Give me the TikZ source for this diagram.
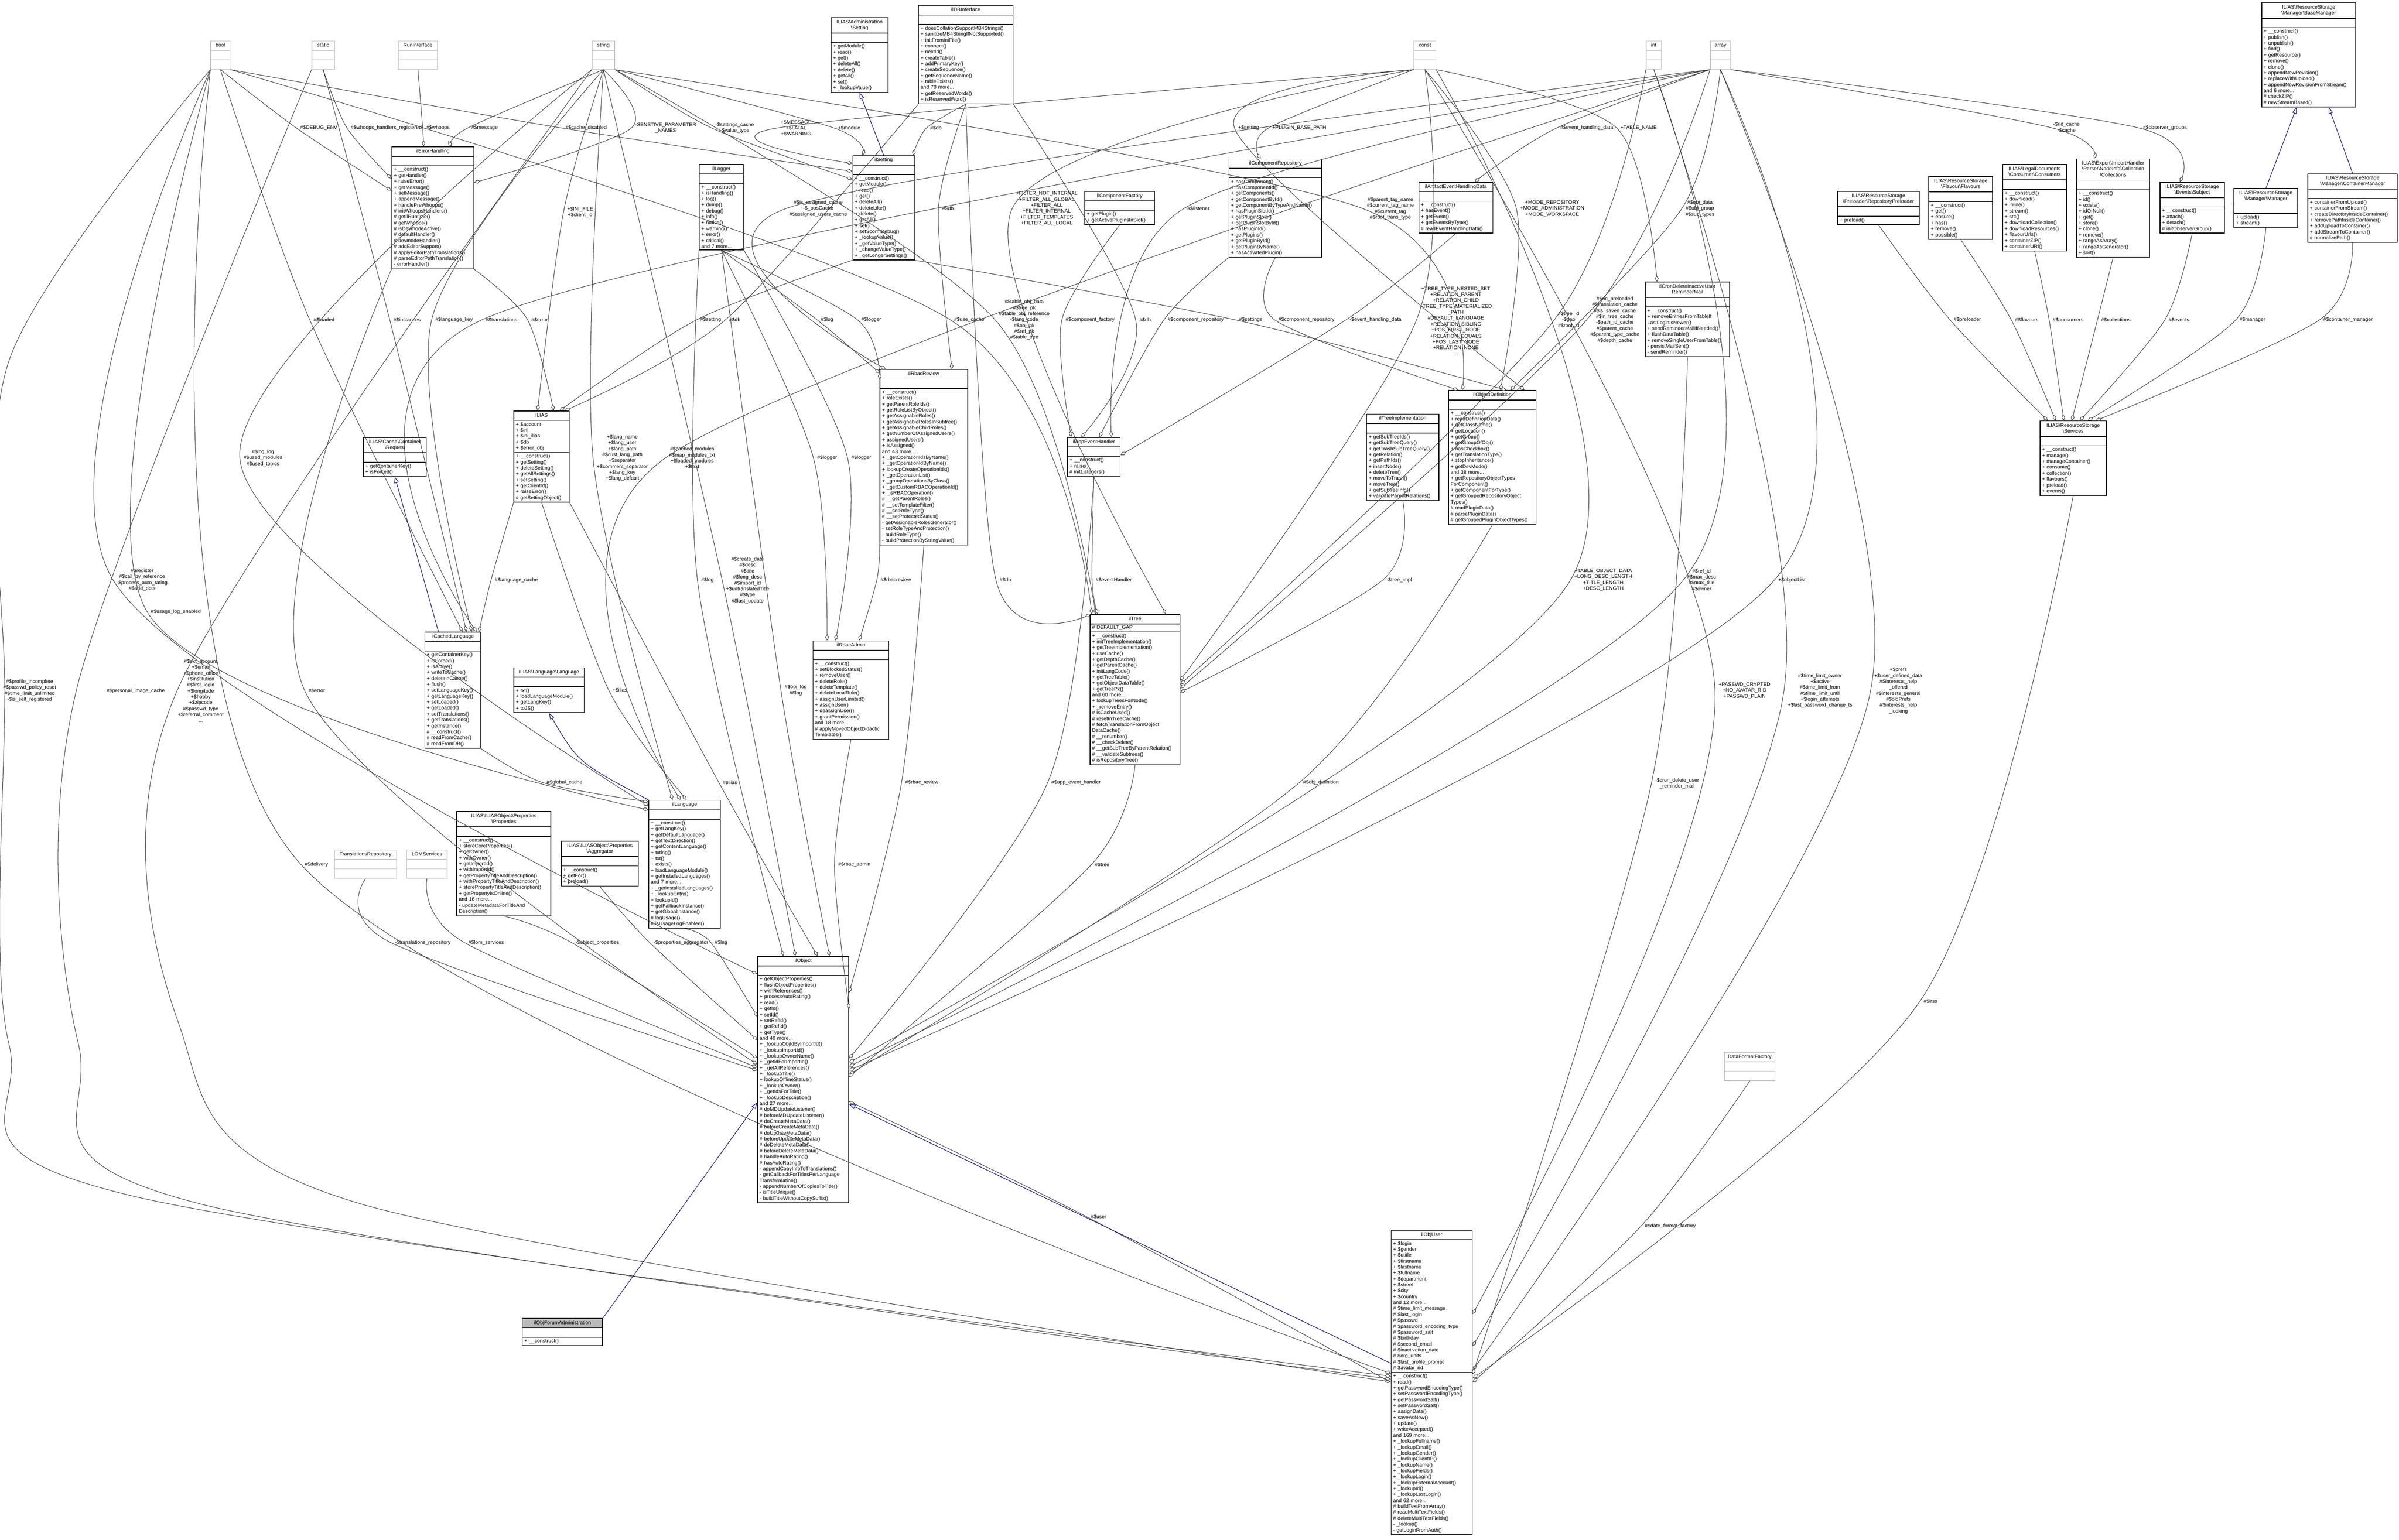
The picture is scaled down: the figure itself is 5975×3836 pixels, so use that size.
\documentclass[tikz,border=0pt]{standalone}
\usepackage{fontspec}
\setmainfont{Liberation Sans}
\usetikzlibrary{shapes.multipart,arrows.meta,calc}
\catcode`\_=12
\newcommand\BS{\textbackslash}
\newcommand\ctitle[1]{\makebox[\linewidth][c]{\begin{tabular}{@{}c@{}}#1\end{tabular}}}
\tikzset{
 base/.style={rectangle split,rectangle split parts=3,draw=black,line width=0.5pt,inner xsep=0.05cm,inner ysep=1pt,align=left,font=\fontsize{3.6}{4.2}\selectfont},
 cls/.style={base},
 gcls/.style={base,draw=gray!45},
 lbl/.style={font=\fontsize{3.6}{4.2}\selectfont,align=center,inner sep=2.5pt},
 agg/.style={draw=black!75,line width=0.35pt,-{Diamond[open,fill=white,length=4.5pt,width=2.6pt]}},
 inh/.style={draw={rgb,255:red,25;green,25;blue,112},line width=0.4pt,-{Triangle[open,fill=white,length=4.5pt,width=3.2pt]}}
}
\newcommand\cls[7]{\node[cls,text width=#4cm,anchor=north west] (#1) at (#2,#3) {\ctitle{#5}\nodepart{two}#6\nodepart{three}#7};}
\newcommand\gcls[5]{\node[gcls,text width=#4cm,anchor=north west] (#1) at (#2,#3) {\ctitle{#5}\nodepart{two}\strut\nodepart{three}\strut};}
\newcommand\lab[4]{\node[lbl] (#1) at (#2,#3) {#4};}
\newcommand\E[3]{\coordinate (T#2) at (#3); \draw[agg] plot[smooth] coordinates {(#1) (#2.west) (T#2)};}
\begin{document}
\begin{tikzpicture}[x=0.01cm,y=-0.01cm]
\useasboundingbox (0,0) rectangle (5975,3836);
% ---------- type boxes
\gcls{B}{524}{101}{0.38}{bool}
\gcls{S}{776}{101}{0.46}{static}
\gcls{RI}{991}{101}{0.88}{RunInterface}
\gcls{STR}{1474}{101}{0.46}{string}
\gcls{C}{3521}{101}{0.44}{const}
\gcls{I}{4099}{101}{0.28}{int}
\gcls{A}{4259}{101}{0.40}{array}
\gcls{transrepo}{832}{2117}{1.45}{TranslationsRepository}
\gcls{lom}{1012}{2117}{0.91}{LOMServices}
\gcls{dff}{4294}{2621}{1.16}{DataFormatFactory}
% ---------- classes
\cls{errh}{975}{365}{1.94}{ilErrorHandling}{\strut}{+ __construct()\\+ getHandler()\\+ raiseError()\\+ getMessage()\\+ setMessage()\\+ appendMessage()\\+ handlePreWhoops()\\\# initWhoopsHandlers()\\\# getIlRuntime()\\\# getWhoops()\\\# isDevmodeActive()\\\# defaultHandler()\\\# devmodeHandler()\\\# addEditorSupport()\\\# applyEditorPathTranslations()\\\# parseEditorPathTranslation()\\- errorHandler()}
\cls{admset}{2069}{43}{1.32}{ILIAS\BS Administration\\\BS Setting}{\strut}{+ getModule()\\+ read()\\+ get()\\+ deleteAll()\\+ delete()\\+ getAll()\\+ set()\\+ _lookupValue()}
\cls{dbi}{2287}{13}{2.25}{ilDBInterface}{\strut}{+ doesCollationSupportMB4Strings()\\+ sanitizeMB4StringIfNotSupported()\\+ initFromIniFile()\\+ connect()\\+ nextId()\\+ createTable()\\+ addPrimaryKey()\\+ createSequence()\\+ getSequenceName()\\+ tableExists()\\and 78 more...\\+ getReservedWords()\\+ isReservedWord()}
\cls{setting}{2123}{387}{1.44}{ilSetting}{\strut}{+ __construct()\\+ getModule()\\+ read()\\+ get()\\+ deleteAll()\\+ deleteLike()\\+ delete()\\+ getAll()\\+ set()\\+ setScormDebug()\\+ _lookupValue()\\+ _getValueType()\\+ _changeValueType()\\+ _getLongerSettings()}
\cls{logger}{1741}{409}{1.00}{ilLogger}{\strut}{+ __construct()\\+ isHandling()\\+ log()\\+ dump()\\+ debug()\\+ info()\\+ notice()\\+ warning()\\+ error()\\+ critical()\\and 7 more...}
\cls{compfac}{2701}{476}{1.64}{ilComponentFactory}{\strut}{+ getPlugin()\\+ getActivePluginsInSlot()}
\cls{comprepo}{3060}{395}{2.21}{ilComponentRepository}{\strut}{+ hasComponent()\\+ hasComponentId()\\+ getComponents()\\+ getComponentById()\\+ getComponentByTypeAndName()\\+ hasPluginSlotId()\\+ getPluginSlots()\\+ getPluginSlotById()\\+ hasPluginId()\\+ getPlugins()\\+ getPluginById()\\+ getPluginByName()\\+ hasActivatedPlugin()}
\cls{artifact}{3533}{453}{1.74}{ilArtifactEventHandlingData}{\strut}{+ __construct()\\+ hasEvent()\\+ getEvent()\\+ getEventsByType()\\\# readEventHandlingData()}
\cls{cron}{4097}{702}{2.00}{ilCronDeleteInactiveUser\\ReminderMail}{\strut}{+ __construct()\\+ removeEntriesFromTableIf\\LastLoginIsNewer()\\+ sendReminderMailIfNeeded()\\+ flushDataTable()\\+ removeSingleUserFromTable()\\- persistMailSent()\\- sendReminder()}
\cls{basemgr}{5632}{6}{2.24}{ILIAS\BS ResourceStorage\\\BS Manager\BS BaseManager}{\strut}{+ __construct()\\+ publish()\\+ unpublish()\\+ find()\\+ getResource()\\+ remove()\\+ clone()\\+ appendNewRevision()\\+ replaceWithUpload()\\+ appendNewRevisionFromStream()\\and 6 more...\\\# checkZIP()\\\# newStreamBased()}
\cls{preload}{4576}{476}{1.93}{ILIAS\BS ResourceStorage\\\BS Preloader\BS RepositoryPreloader}{\strut}{+ preload()}
\cls{flavours}{4803}{439}{1.49}{ILIAS\BS ResourceStorage\\\BS Flavour\BS Flavours}{\strut}{+ __construct()\\+ get()\\+ ensure()\\+ has()\\+ remove()\\+ possible()}
\cls{consumers}{4987}{409}{1.49}{ILIAS\BS LegalDocuments\\\BS Consumer\BS Consumers}{\strut}{+ __construct()\\+ download()\\+ inline()\\+ stream()\\+ src()\\+ downloadCollection()\\+ downloadResources()\\+ flavourUrls()\\+ containerZIP()\\+ containerURI()}
\cls{collections}{5171}{395}{1.72}{ILIAS\BS Export\BS ImportHandler\\\BS Parser\BS NodeInfo\BS Collection\\\BS Collections}{\strut}{+ __construct()\\+ id()\\+ exists()\\+ idOrNull()\\+ get()\\+ store()\\+ clone()\\+ remove()\\+ rangeAsArray()\\+ rangeAsGenerator()\\+ sort()}
\cls{subject}{5379}{453}{1.50}{ILIAS\BS ResourceStorage\\\BS Events\BS Subject}{\strut}{+ __construct()\\+ attach()\\+ detach()\\\# initObserverGroup()}
\cls{manager}{5563}{469}{1.49}{ILIAS\BS ResourceStorage\\\BS Manager\BS Manager}{\strut}{+ upload()\\+ stream()}
\cls{contmgr}{5747}{432}{2.13}{ILIAS\BS ResourceStorage\\\BS Manager\BS ContainerManager}{\strut}{+ containerFromUpload()\\+ containerFromStream()\\+ createDirectoryInsideContainer()\\+ removePathInsideContainer()\\+ addUploadToContainer()\\+ addStreamToContainer()\\\# normalizePath()}
\cls{services}{5080}{1048}{1.55}{ILIAS\BS ResourceStorage\\\BS Services}{\strut}{+ __construct()\\+ manage()\\+ manageContainer()\\+ consume()\\+ collection()\\+ flavours()\\+ preload()\\+ events()}
\cls{ilias}{1279}{1023}{1.28}{ILIAS}{+ \$account\\+ \$ini\\+ \$ini_ilias\\+ \$db\\+ \$error_obj}{+ __construct()\\+ getSetting()\\+ deleteSetting()\\+ getAllSettings()\\+ setSetting()\\+ getClientId()\\+ raiseError()\\\# getSettingObject()}
\cls{request}{904}{1089}{1.47}{ILIAS\BS Cache\BS Container\\\BS Request}{\strut}{+ getContainerKey()\\+ isForced()}
\cls{cachedlang}{1057}{1574}{1.29}{ilCachedLanguage}{\strut}{+ getContainerKey()\\+ isForced()\\+ isActive()\\+ writeToCache()\\+ deleteInCache()\\+ flush()\\+ setLanguageKey()\\+ getLanguageKey()\\+ setLoaded()\\+ getLoaded()\\+ setTranslations()\\+ getTranslations()\\+ getInstance()\\\# __construct()\\\# readFromCache()\\\# readFromDB()}
\cls{langlang}{1279}{1663}{1.65}{ILIAS\BS Language\BS Language}{\strut}{+ txt()\\+ loadLanguageModule()\\+ getLangKey()\\+ toJS()}
\cls{rbacadmin}{2024}{1596}{1.79}{ilRbacAdmin}{\strut}{+ __construct()\\+ setBlockedStatus()\\+ removeUser()\\+ deleteRole()\\+ deleteTemplate()\\+ deleteLocalRole()\\+ assignUserLimited()\\+ assignUser()\\+ deassignUser()\\+ grantPermission()\\and 18 more...\\\# applyMovedObjectDidactic\\Templates()}
\cls{rbacreview}{2191}{920}{2.08}{ilRbacReview}{\strut}{+ __construct()\\+ roleExists()\\+ getParentRoleIds()\\+ getRoleListByObject()\\+ getAssignableRoles()\\+ getAssignableRolesInSubtree()\\+ getAssignableChildRoles()\\+ getNumberOfAssignedUsers()\\+ assignedUsers()\\+ isAssigned()\\and 43 more...\\+ _getOperationIdsByName()\\+ _getOperationIdByName()\\+ lookupCreateOperationIds()\\+ _getOperationList()\\+ _groupOperationsByClass()\\+ _getCustomRBACOperationId()\\+ _isRBACOperation()\\\# __getParentRoles()\\\# __setTemplateFilter()\\\# __setRoleType()\\\# __setProtectedStatus()\\- getAssignableRolesGenerator()\\- setRoleTypeAndProtection()\\- buildRoleType()\\- buildProtectionByStringValue()}
\cls{appevent}{2658}{1089}{1.21}{ilAppEventHandler}{\strut}{+ __construct()\\+ raise()\\\# initListeners()}
\cls{tree}{2714}{1530}{2.14}{ilTree}{\# DEFAULT_GAP}{+ __construct()\\+ initTreeImplementation()\\+ getTreeImplementation()\\+ useCache()\\+ getDepthCache()\\+ getParentCache()\\+ initLangCode()\\+ getTreeTable()\\+ getObjectDataTable()\\+ getTreePk()\\and 60 more...\\+ lookupTreesForNode()\\+ _removeEntry()\\\# isCacheUsed()\\\# resetInTreeCache()\\\# fetchTranslationFromObject\\DataCache()\\\# __renumber()\\\# __checkDelete()\\\# __getSubTreeByParentRelation()\\\# __validateSubtrees()\\\# isRepositoryTree()}
\cls{treeimpl}{3403}{1031}{1.70}{ilTreeImplementation}{\strut}{+ getSubTreeIds()\\+ getSubTreeQuery()\\+ getTrashSubTreeQuery()\\+ getRelation()\\+ getPathIds()\\+ insertNode()\\+ deleteTree()\\+ moveToTrash()\\+ moveTree()\\+ getSubtreeInfo()\\+ validateParentRelations()}
\cls{objdef}{3607}{972}{2.08}{ilObjectDefinition}{\strut}{+ __construct()\\+ readDefinitionData()\\+ getClassName()\\+ getLocation()\\+ getGroup()\\+ getGroupOfObj()\\+ hasCheckbox()\\+ getTranslationType()\\+ stopInheritance()\\+ getDevMode()\\and 38 more...\\+ getRepositoryObjectTypes\\ForComponent()\\+ getComponentForType()\\+ getGroupedRepositoryObject\\Types()\\\# readPluginData()\\\# parsePluginData()\\\# getGroupedPluginObjectTypes()}
\cls{language}{1615}{1993}{1.68}{ilLanguage}{\strut}{+ __construct()\\+ getLangKey()\\+ getDefaultLanguage()\\+ getTextDirection()\\+ getContentLanguage()\\+ txtlng()\\+ txt()\\+ exists()\\+ loadLanguageModule()\\+ getInstalledLanguages()\\and 7 more...\\+ _getInstalledLanguages()\\+ _lookupEntry()\\+ lookupId()\\+ getFallbackInstance()\\+ getGlobalInstance()\\\# logUsage()\\\# isUsageLogEnabled()}
\cls{props}{1137}{2021}{2.24}{ILIAS\BS ILIASObject\BS Properties\\\BS Properties}{\strut}{+ __construct()\\+ storeCoreProperties()\\+ getOwner()\\+ withOwner()\\+ getImportId()\\+ withImportId()\\+ getPropertyTitleAndDescription()\\+ withPropertyTitleAndDescription()\\+ storePropertyTitleAndDescription()\\+ getPropertyIsOnline()\\and 16 more...\\- updateMetadataForTitleAnd\\Description()}
\cls{aggr}{1397}{2095}{1.82}{ILIAS\BS ILIASObject\BS Properties\\\BS Aggregator}{\strut}{+ __construct()\\+ getFor()\\+ preload()}
\cls{object}{1886}{2382}{2.17}{ilObject}{\strut}{+ getObjectProperties()\\+ flushObjectProperties()\\+ withReferences()\\+ processAutoRating()\\+ read()\\+ getId()\\+ setId()\\+ setRefId()\\+ getRefId()\\+ getType()\\and 40 more...\\+ _lookupObjIdByImportId()\\+ _lookupImportId()\\+ _lookupOwnerName()\\+ _getIdForImportId()\\+ _getAllReferences()\\+ _lookupTitle()\\+ lookupOfflineStatus()\\+ _lookupOwner()\\+ _getIdsForTitle()\\+ _lookupDescription()\\and 27 more...\\\# doMDUpdateListener()\\\# beforeMDUpdateListener()\\\# doCreateMetaData()\\\# beforeCreateMetaData()\\\# doUpdateMetaData()\\\# beforeUpdateMetaData()\\\# doDeleteMetaData()\\\# beforeDeleteMetaData()\\\# handleAutoRating()\\\# hasAutoRating()\\- appendCopyInfoToTranslations()\\- getCallbackForTitlesPerLanguage\\Transformation()\\- appendNumberOfCopiesToTitle()\\- isTitleUnique()\\- buildTitleWithoutCopySuffix()}
\cls{objuser}{3464}{3064}{1.92}{ilObjUser}{+ \$login\\+ \$gender\\+ \$utitle\\+ \$firstname\\+ \$lastname\\+ \$fullname\\+ \$department\\+ \$street\\+ \$city\\+ \$country\\and 12 more...\\\# \$time_limit_message\\\# \$last_login\\\# \$passwd\\\# \$password_encoding_type\\\# \$password_salt\\\# \$birthday\\\# \$second_email\\\# \$inactivation_date\\\# \$org_units\\\# \$last_profile_prompt\\\# \$avatar_rid}{+ __construct()\\+ read()\\+ getPasswordEncodingType()\\+ setPasswordEncodingType()\\+ getPasswordSalt()\\+ setPasswordSalt()\\+ assignData()\\+ saveAsNew()\\+ update()\\+ writeAccepted()\\and 169 more...\\+ _lookupFullname()\\+ _lookupEmail()\\+ _lookupGender()\\+ _lookupClientIP()\\+ _lookupName()\\+ _lookupFields()\\+ _lookupLogin()\\+ _lookupExternalAccount()\\+ _lookupId()\\+ _lookupLastLogin()\\and 62 more...\\\# buildTextFromArray()\\\# readMultiTextFields()\\\# deleteMultiTextFields()\\- _lookup()\\- getLoginFromAuth()}
\node[cls,text width=1.90cm,anchor=north west,rectangle split part fill={gray!55,white,white}] (forum) at (1300,3284) {\ctitle{ilObjForumAdministration}\nodepart{two}\strut\nodepart{three}+ __construct()};
% ---------- labels
\lab{L1}{794}{319}{\#\$DEBUG_ENV}
\lab{L2}{962}{319}{\#\$whoops_handlers_registered}
\lab{L3}{1091}{319}{\#\$whoops}
\lab{L4}{1207}{319}{\#\$message}
\lab{L5}{1460}{319}{\#\$cache_disabled}
\lab{L6}{1658}{319}{-SENSTIVE_PARAMETER\\_NAMES}
\lab{L7}{1830}{319}{-\$settings_cache\\-\$value_type}
\lab{L8}{1983}{319}{+\$MESSAGE\\+\$FATAL\\+\$WARNING}
\lab{L9}{2115}{319}{+\$module}
\lab{L10}{2331}{319}{\#\$db}
\lab{L11}{3110}{319}{+\$setting}
\lab{L12}{3236}{319}{+PLUGIN_BASE_PATH}
\lab{L13}{3952}{319}{\#\$event_handling_data}
\lab{L14}{4081}{319}{+TABLE_NAME}
\lab{L15}{5147}{317}{-\$rid_cache\\-\$cache}
\lab{L16}{5392}{319}{\#\$observer_groups}
\lab{L17}{1445}{529}{+\$INI_FILE\\+\$client_id}
\lab{L18}{2038}{520}{\#\$is_assigned_cache\\-\$_opsCache\\\#\$assigned_users_cache}
\lab{L19}{2361}{520}{\#\$db}
\lab{L20}{2607}{520}{+FILTER_NOT_INTERNAL\\+FILTER_ALL_GLOBAL\\+FILTER_ALL\\+FILTER_INTERNAL\\+FILTER_TEMPLATES\\+FILTER_ALL_LOCAL}
\lab{L21}{3463}{520}{\#\$parent_tag_name\\\#\$current_tag_name\\\#\$current_tag\\\#\$root_trans_type}
\lab{L22}{3866}{520}{+MODE_REPOSITORY\\+MODE_ADMINISTRATION\\+MODE_WORKSPACE}
\lab{L23}{4234}{520}{\#\$obj_data\\\#\$obj_group\\\#\$sub_types}
\lab{L24}{2985}{520}{\#\$listener}
\lab{L26}{807}{797}{\#\$loaded}
\lab{L27}{1014}{797}{\#\$instances}
\lab{L28}{1131}{797}{\#\$language_key}
\lab{L29}{1249}{797}{\#\$translations}
\lab{L30}{1344}{797}{\#\$error}
\lab{L31}{1770}{797}{\#\$setting}
\lab{L32}{1830}{797}{\#\$db}
\lab{L33}{2060}{797}{\#\$log}
\lab{L34}{2170}{797}{\#\$logger}
\lab{L35}{2414}{797}{\#\$use_cache}
\lab{L36}{2551}{797}{\#\$table_obj_data\\\#\$tree_pk\\\#\$table_obj_reference\\-\$lang_code\\\#\$obj_pk\\\#\$ref_pk\\\#\$table_tree}
\lab{L37}{2715}{797}{\#\$component_factory}
\lab{L38}{2852}{797}{\#\$db}
\lab{L39}{2978}{797}{\#\$component_repository}
\lab{L40}{3115}{797}{\#\$settings}
\lab{L41}{3254}{797}{\#\$component_repository}
\lab{L42}{3426}{797}{-\$event_handling_data}
\lab{L43}{3626}{800}{+TREE_TYPE_NESTED_SET\\+RELATION_PARENT\\+RELATION_CHILD\\+TREE_TYPE_MATERIALIZED\\_PATH\\\#DEFAULT_LANGUAGE\\+RELATION_SIBLING\\+POS_FIRST_NODE\\+RELATION_EQUALS\\+POS_LAST_NODE\\+RELATION_NONE\\...}
\lab{L44}{3907}{797}{\#\$tree_id\\-\$gap\\\#\$root_id}
\lab{L45}{4022}{797}{\#\$oc_preloaded\\\#\$translation_cache\\\#\$is_saved_cache\\\#\$in_tree_cache\\-\$path_id_cache\\\#\$parent_cache\\\#\$parent_type_cache\\\#\$depth_cache}
\lab{L46}{4900}{797}{\#\$preloader}
\lab{L47}{5048}{797}{\#\$flavours}
\lab{L48}{5151}{797}{\#\$consumers}
\lab{L49}{5270}{797}{\#\$collections}
\lab{L50}{5427}{797}{\#\$events}
\lab{L51}{5610}{797}{\#\$manager}
\lab{L52}{5848}{797}{\#\$container_manager}
\lab{L53}{655}{1141}{\#\$lng_log\\\#\$used_modules\\\#\$used_topics}
\lab{L54}{1550}{1141}{+\$lang_name\\+\$lang_user\\+\$lang_path\\\#\$cust_lang_path\\+\$separator\\+\$comment_separator\\+\$lang_key\\+\$lang_default}
\lab{L55}{1724}{1141}{\#\$cached_modules\\\#\$map_modules_txt\\+\$loaded_modules\\+\$text}
\lab{L56}{2060}{1141}{\#\$logger}
\lab{L57}{2145}{1141}{\#\$logger}
\lab{L58}{1286}{1445}{\#\$language_cache}
\lab{L59}{1762}{1445}{\#\$log}
\lab{L60}{1862}{1446}{\#\$create_date\\\#\$desc\\\#\$title\\\#\$long_desc\\\#\$import_id\\+\$untranslatedTitle\\\#\$type\\\#\$last_update}
\lab{L61}{354}{1445}{\#\$register\\\#\$call_by_reference\\-\$process_auto_rating\\\#\$add_dots}
\lab{L62}{2231}{1445}{\#\$rbacreview}
\lab{L63}{2504}{1445}{\#\$db}
\lab{L64}{2774}{1445}{\#\$eventHandler}
\lab{L65}{3485}{1445}{-\$tree_impl}
\lab{L66}{3993}{1445}{+TABLE_OBJECT_DATA\\+LONG_DESC_LENGTH\\+TITLE_LENGTH\\+DESC_LENGTH}
\lab{L67}{4238}{1445}{\#\$ref_id\\\#\$max_desc\\\#\$max_title\\\#\$owner}
\lab{L68}{4463}{1445}{+\$objectList}
\lab{L69}{438}{1524}{\#\$usage_log_enabled}
\lab{L70}{74}{1721}{\#\$profile_incomplete\\\#\$passwd_policy_reset\\\#\$time_limit_unlimited\\-\$is_self_registered}
\lab{L71}{338}{1721}{\#\$personal_image_cache}
\lab{L72}{500}{1721}{\#\$ext_account\\+\$email\\+\$phone_office\\+\$institution\\\#\$first_login\\+\$longitude\\+\$hobby\\+\$zipcode\\\#\$passwd_type\\+\$referral_comment\\...}
\lab{L73}{789}{1721}{\#\$error}
\lab{L74}{1544}{1720}{+\$ilias}
\lab{L75}{1982}{1720}{\#\$obj_log\\\#\$log}
\lab{L76}{4345}{1721}{+PASSWD_CRYPTED\\+NO_AVATAR_RID\\+PASSWD_PLAIN}
\lab{L77}{4533}{1721}{\#\$time_limit_owner\\+\$active\\\#\$time_limit_from\\\#\$time_limit_until\\+\$login_attempts\\+\$last_password_change_ts}
\lab{L78}{4728}{1721}{+\$prefs\\+\$user_defined_data\\\#\$interests_help\\_offered\\\#\$interests_general\\\#\$oldPrefs\\\#\$interests_help\\_looking}
\lab{L79}{1406}{1950}{\#\$global_cache}
\lab{L80}{1818}{1950}{\#\$ilias}
\lab{L81}{2296}{1950}{\#\$rbac_review}
\lab{L82}{2680}{1950}{\#\$app_event_handler}
\lab{L83}{3290}{1950}{\#\$obj_definition}
\lab{L84}{4177}{1952}{-\$cron_delete_user\\_reminder_mail}
\lab{L85}{2128}{2154}{\#\$rbac_admin}
\lab{L86}{788}{2154}{\#\$delivery}
\lab{L87}{2745}{2155}{\#\$tree}
\lab{L88}{1053}{2349}{-\$translations_repository}
\lab{L89}{1211}{2349}{\#\$lom_services}
\lab{L90}{1488}{2349}{-\$object_properties}
\lab{L91}{1696}{2349}{-\$properties_aggregator}
\lab{L92}{1796}{2349}{\#\$lng}
\lab{L93}{2736}{3032}{\#\$user}
\lab{L94}{4160}{3055}{\#\$date_format_factory}
\lab{L95}{4808}{2495}{\#\$irss}
% ---------- aggregation edges
\E{B.south}{L1}{$(errh.north west)+(0,110)$}
\E{S.south}{L2}{$(errh.north west)+(0,80)$}
\E{RI.south}{L3}{$(errh.north west)+(80,0)$}
\E{STR.south}{L4}{$(errh.north west)+(150,0)$}
\E{B.south east}{L5}{$(setting.north west)+(0,40)$}
\E{STR.south}{L6}{$(errh.north east)+(0,90)$}
\E{STR.south east}{L7}{$(setting.north west)+(0,60)$}
\E{C.south west}{L8}{$(setting.north west)+(0,20)$}
\E{STR.south east}{L9}{$(setting.north west)+(25,0)$}
\E{dbi.south}{L10}{$(setting.north east)+(-5,0)$}
\E{C.south west}{L11}{$(objdef.north west)+(190,0)$}
\E{C.south west}{L12}{$(comprepo.north west)+(80,0)$}
\E{A.south west}{L13}{$(artifact.north west)+(140,0)$}
\E{C.south east}{L14}{$(cron.north west)+(30,0)$}
\E{A.south east}{L15}{$(collections.north west)+(45,0)$}
\E{A.south east}{L16}{$(subject.north west)+(50,0)$}
\E{STR.south}{L17}{$(ilias.north west)+(60,0)$}
\E{A.south west}{L18}{$(rbacreview.north west)+(15,0)$}
\E{dbi.south}{L19}{$(rbacreview.north west)+(180,0)$}
\E{C.south west}{L20}{$(tree.north west)+(190,0)$}
\E{STR.south east}{L21}{$(objdef.north west)+(35,0)$}
\E{C.south}{L22}{$(objdef.north west)+(130,0)$}
\E{A.south}{L23}{$(objdef.north west)+(155,0)$}
\E{A.south west}{L24}{$(appevent.north west)+(110,0)$}
\E{B.south}{L26}{$(cachedlang.north west)+(95,0)$}
\E{S.south}{L27}{$(cachedlang.north west)+(105,0)$}
\E{STR.south}{L28}{$(cachedlang.north west)+(118,0)$}
\E{A.south west}{L29}{$(cachedlang.north west)+(130,0)$}
\E{errh.south east}{L30}{$(ilias.north west)+(100,0)$}
\E{setting.south west}{L31}{$(ilias.north west)+(115,0)$}
\E{dbi.south west}{L32}{$(ilias.north west)+(128,0)$}
\E{logger.south}{L33}{$(rbacreview.north west)+(0,10)$}
\E{logger.south}{L34}{$(rbacreview.north west)+(0,25)$}
\E{B.south east}{L35}{$(tree.north west)+(5,0)$}
\E{STR.south east}{L36}{$(tree.north west)+(15,0)$}
\E{compfac.south}{L37}{$(appevent.north west)+(10,0)$}
\E{dbi.south east}{L38}{$(appevent.north west)+(35,0)$}
\E{comprepo.south west}{L39}{$(appevent.north west)+(80,0)$}
\E{setting.south east}{L40}{$(objdef.north west)+(145,0)$}
\E{comprepo.south}{L41}{$(objdef.north west)+(25,0)$}
\E{artifact.south}{L42}{$(appevent.north east)+(0,45)$}
\E{C.south}{L43}{$(tree.north east)+(0,165)$}
\E{I.south west}{L44}{$(tree.north east)+(0,175)$}
\E{A.south west}{L45}{$(tree.north east)+(0,185)$}
\E{preload.south}{L46}{$(services.north west)+(20,0)$}
\E{flavours.south}{L47}{$(services.north west)+(40,0)$}
\E{consumers.south}{L48}{$(services.north west)+(60,0)$}
\E{collections.south}{L49}{$(services.north west)+(80,0)$}
\E{subject.south}{L50}{$(services.north west)+(100,0)$}
\E{manager.south}{L51}{$(services.north west)+(120,0)$}
\E{contmgr.south}{L52}{$(services.north west)+(140,0)$}
\E{STR.south west}{L53}{$(language.north west)+(0,15)$}
\E{STR.south}{L54}{$(language.north west)+(60,0)$}
\E{A.south west}{L55}{$(language.north west)+(80,0)$}
\E{logger.south}{L56}{$(rbacadmin.north west)+(36,0)$}
\E{logger.south east}{L57}{$(rbacadmin.north west)+(57,0)$}
\E{ilias.south west}{L58}{$(cachedlang.north east)+(-5,0)$}
\E{logger.south west}{L59}{$(object.north west)+(65,0)$}
\E{STR.south}{L60}{$(object.north west)+(95,0)$}
\E{B.south west}{L61}{$(object.north west)+(0,45)$}
\E{rbacreview.south west}{L62}{$(rbacadmin.north west)+(116,0)$}
\E{dbi.south}{L63}{$(tree.north west)+(3,0)$}
\E{appevent.south}{L64}{$(tree.north west)+(20,0)$}
\E{treeimpl.south}{L65}{$(tree.north east)+(0,195)$}
\E{C.south east}{L66}{$(object.north east)+(0,265)$}
\E{I.south}{L67}{$(object.north east)+(0,275)$}
\E{A.south}{L68}{$(object.north east)+(0,285)$}
\E{B.south west}{L69}{$(language.north west)+(0,25)$}
\coordinate (w70a) at (22,900); \coordinate (w70b) at (12,1721); \coordinate (w70c) at (22,2600); \coordinate (w70d) at (330,2980); \coordinate (T70) at ($(objuser.north west)+(0,365)$);
\draw[agg] plot[smooth] coordinates {(B.south west) (w70a) (w70b) (w70c) (w70d) (T70)};
\coordinate (w71a) at (190,1721); \coordinate (w71b) at (195,2600); \coordinate (w71c) at (500,3000); \coordinate (T71) at ($(objuser.north west)+(0,372)$);
\draw[agg] plot[smooth] coordinates {(S.south west) (w71a) (w71b) (w71c) (T71)};
\coordinate (w72a) at (441,1721); \coordinate (w72b) at (445,2550); \coordinate (w72c) at (900,3000); \coordinate (T72) at ($(objuser.north west)+(0,379)$);
\draw[agg] plot[smooth] coordinates {(STR.south west) (w72a) (w72b) (w72c) (T72)};
\E{errh.south west}{L73}{$(object.north west)+(0,270)$}
\E{ilias.south}{L74}{$(language.north west)+(95,0)$}
\E{logger.south}{L75}{$(object.north west)+(180,0)$}
\E{C.south}{L76}{$(objuser.north east)+(0,210)$}
\E{I.south}{L77}{$(objuser.north east)+(0,290)$}
\E{A.south}{L78}{$(objuser.north east)+(0,350)$}
\E{cachedlang.south east}{L79}{$(language.north west)+(0,5)$}
\E{ilias.south east}{L80}{$(object.north west)+(150,0)$}
\E{rbacreview.south}{L81}{$(object.north east)+(0,91)$}
\E{appevent.south}{L82}{$(object.north east)+(0,255)$}
\E{objdef.south}{L83}{$(object.north east)+(0,295)$}
\E{cron.south}{L84}{$(objuser.north east)+(0,360)$}
\E{rbacadmin.south}{L85}{$(object.north east)+(0,132)$}
\E{B.south west}{L86}{$(objuser.north west)+(0,358)$}
\E{tree.south}{L87}{$(object.north east)+(0,301)$}
\E{transrepo.south}{L88}{$(object.north west)+(0,285)$}
\E{lom.south}{L89}{$(object.north west)+(0,278)$}
\E{props.south}{L90}{$(object.north west)+(0,254)$}
\E{aggr.south}{L91}{$(object.north west)+(0,209)$}
\E{language.south}{L92}{$(object.north west)+(0,151)$}
\E{objuser.west}{L93}{$(object.north east)+(0,362)$}
\E{dff.south}{L94}{$(objuser.north east)+(0,380)$}
\E{services.south}{L95}{$(objuser.north east)+(0,370)$}
% ---------- inheritance
\draw[inh] (setting.north) -- (admset.south);
\draw[inh] ($(cachedlang.north west)+(35,0)$) -- (request.south);
\draw[inh] (language.north west) .. controls (1440,1900) .. (langlang.south);
\draw[inh] (manager.north) -- ($(basemgr.south)+(-30,0)$);
\draw[inh] (contmgr.north) -- ($(basemgr.south)+(50,0)$);
\draw[inh] (forum.north east) -- ($(object.north west)+(0,365)$);
\draw[inh] ($(objuser.north west)+(0,333)$) -- ($(object.north east)+(0,369)$);
\end{tikzpicture}
\end{document}
